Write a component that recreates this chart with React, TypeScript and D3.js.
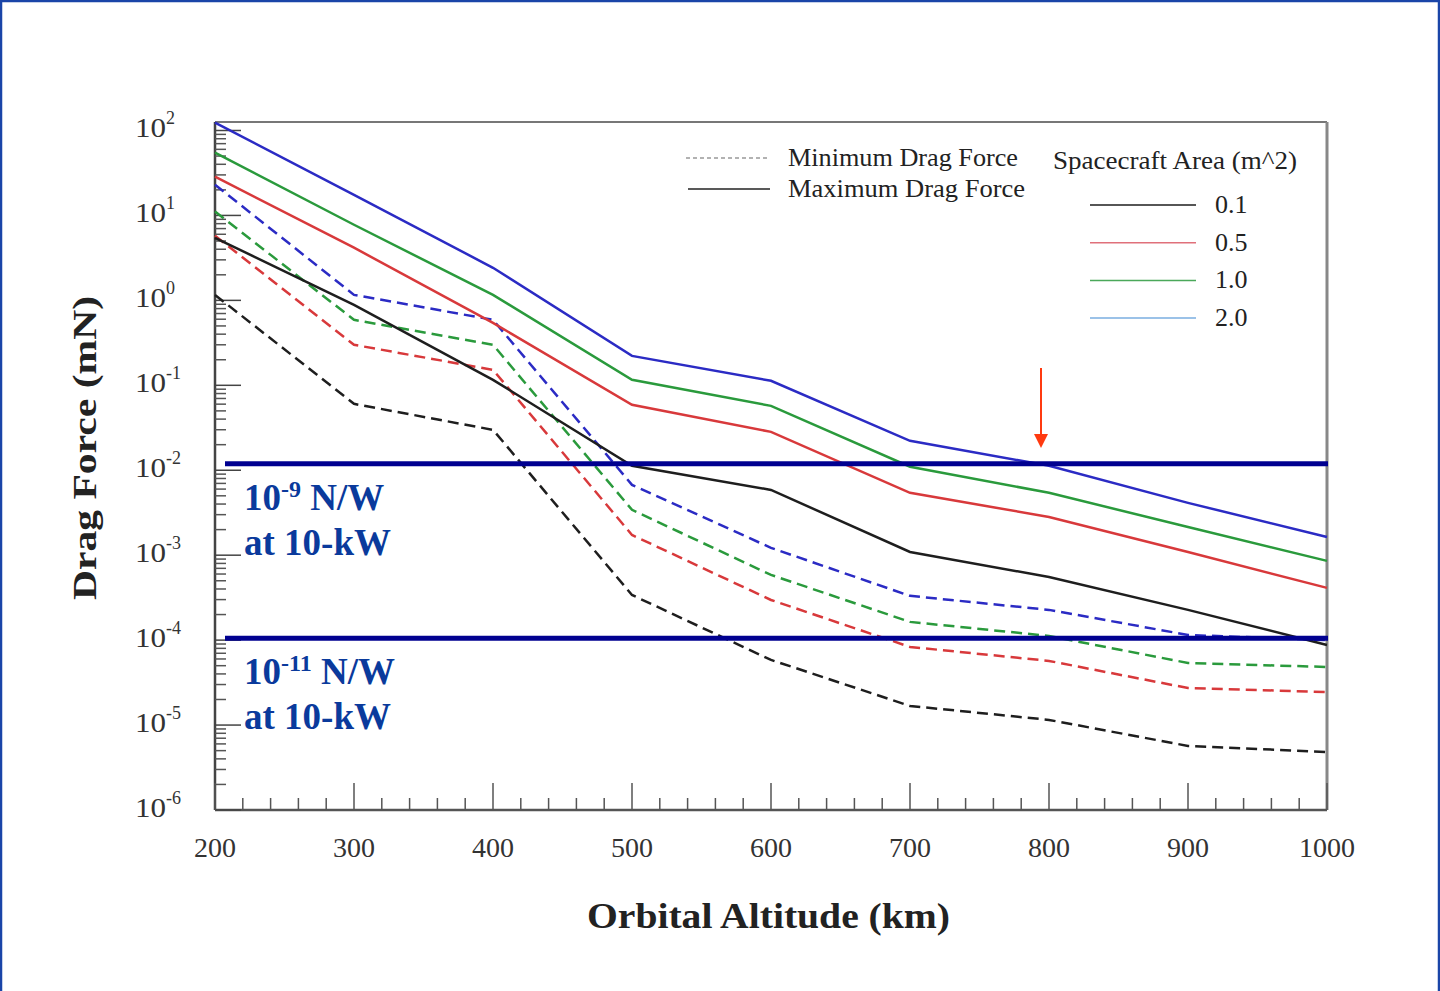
import React from 'react';
import * as d3 from 'd3';

// orbital altitude (km)
const altitudes = [200, 300, 400, 500, 600, 700, 800, 900, 1000];

// drag force (mN)
const maxDrag01 = [5.46, 0.887, 0.116, 0.0113, 0.00587, 0.00109, 0.000554, 0.000227, 0.0000877];
const maxDrag05 = [28.6, 4.17, 0.544, 0.0589, 0.0283, 0.00542, 0.00282, 0.00109, 0.000412];
const maxDrag10 = [54.8, 7.77, 1.16, 0.116, 0.0573, 0.011, 0.00542, 0.00215, 0.000857];
const maxDrag20 = [123.6, 17.5, 2.42, 0.222, 0.113, 0.0222, 0.0113, 0.00413, 0.00164];
const minDrag01 = [1.16, 0.0605, 0.0299, 0.00034, 0.0000585, 0.0000168, 0.0000115, 0.00000568, 0.00000482];
const minDrag05 = [5.77, 0.3, 0.152, 0.00173, 0.000297, 0.0000832, 0.0000569, 0.0000273, 0.0000245];
const minDrag10 = [11.1, 0.59, 0.3, 0.00342, 0.000586, 0.000164, 0.000112, 0.0000538, 0.0000483];
const minDrag20 = [23.0, 1.16, 0.59, 0.00673, 0.00122, 0.000332, 0.000227, 0.000115, 0.0001];

const areaLabels = ['0.1', '0.5', '1.0', '2.0'];
const areaColors = ['#1e1e1e', '#d8393b', '#2a9a3c', '#2b2bc4'];
const legendColors = ['#1e1e1e', '#e0707a', '#4aa85a', '#7aaee0'];

const xTicks = [200, 300, 400, 500, 600, 700, 800, 900, 1000];
const yExponents = [2, 1, 0, -1, -2, -3, -4, -5, -6];

// thrust noise thresholds (mN) and their labels
const thresholds = [0.0119, 0.000105];
const thresholdExp = ['-9', '-11'];

const W = 1440;
const H = 991;
const serif = '"Liberation Serif", "Times New Roman", serif';

const App = () => {
  const x = d3.scaleLinear().domain([200, 1000]).range([215, 1327]);
  const y = d3.scaleLog().domain([1e-6, Math.pow(10, 2.1)]).range([810, 122]);

  const line = d3
    .line<number>()
    .x((d, i) => x(altitudes[i]))
    .y((d) => y(d));

  const maxSeries = [maxDrag01, maxDrag05, maxDrag10, maxDrag20];
  const minSeries = [minDrag01, minDrag05, minDrag10, minDrag20];

  // minor ticks
  const yMinor: number[] = [];
  for (let e = -6; e < 2; e++) {
    for (let k = 2; k <= 9; k++) yMinor.push(k * Math.pow(10, e));
  }
  const xMinor = d3.range(220, 1000, 20).filter((v) => v % 100 !== 0);

  return (
    <svg width={W} height={H} style={{ position: 'absolute', left: 0, top: 0, background: '#fff' }}>
      {/* page border */}
      <rect x={1} y={1} width={W - 2} height={H + 10} fill="none" stroke="#1a45a8" strokeWidth={2.5} />

      {/* plot frame */}
      <line x1={215} y1={122} x2={1327} y2={122} stroke="#777" strokeWidth={2} />
      <line x1={1327} y1={122} x2={1327} y2={810} stroke="#888" strokeWidth={3} />
      <line x1={215} y1={810} x2={1327} y2={810} stroke="#555" strokeWidth={2.5} />
      <line x1={215} y1={122} x2={215} y2={810} stroke="#444" strokeWidth={2.5} />

      {/* y ticks */}
      {yExponents.map((e) => (
        <line key={'ym' + e} x1={215} x2={241} y1={y(Math.pow(10, e))} y2={y(Math.pow(10, e))} stroke="#444" strokeWidth={1.5} />
      ))}
      {yMinor.map((v, i) => (
        <line key={'yn' + i} x1={215} x2={226} y1={y(v)} y2={y(v)} stroke="#555" strokeWidth={1.5} />
      ))}
      {/* x ticks */}
      {xTicks.map((t) => (
        <line key={'xm' + t} x1={x(t)} x2={x(t)} y1={810} y2={783} stroke="#555" strokeWidth={1.5} />
      ))}
      {xMinor.map((t) => (
        <line key={'xn' + t} x1={x(t)} x2={x(t)} y1={810} y2={798} stroke="#555" strokeWidth={1.5} />
      ))}

      {/* y tick labels */}
      {yExponents.map((e) => (
        <text key={'yl' + e} x={135} y={y(Math.pow(10, e)) + 7} fontFamily={serif} fontSize={28} fill="#333">
          <tspan textLength={31} lengthAdjust="spacingAndGlyphs">10</tspan>
          <tspan dy={-13} fontSize={18}>{e}</tspan>
        </text>
      ))}
      {/* x tick labels */}
      {xTicks.map((t) => (
        <text key={'xl' + t} x={x(t)} y={857} textAnchor="middle" fontFamily={serif} fontSize={28} fill="#333">
          {t}
        </text>
      ))}

      {/* axis titles */}
      <text
        x={587}
        y={928}
        fontFamily={serif}
        fontWeight="bold"
        fontSize={35}
        fill="#222"
        textLength={363}
        lengthAdjust="spacingAndGlyphs"
      >
        Orbital Altitude (km)
      </text>
      <text
        transform="translate(96,600) rotate(-90)"
        fontFamily={serif}
        fontWeight="bold"
        fontSize={33}
        fill="#222"
        textLength={304}
        lengthAdjust="spacingAndGlyphs"
      >
        Drag Force (mN)
      </text>

      {/* data */}
      {minSeries.map((s, i) => (
        <path key={'min' + i} d={line(s) || ''} fill="none" stroke={areaColors[i]} strokeWidth={2.5} strokeDasharray="11 6" />
      ))}
      {maxSeries.map((s, i) => (
        <path key={'max' + i} d={line(s) || ''} fill="none" stroke={areaColors[i]} strokeWidth={2.5} />
      ))}

      {/* legend: line style */}
      <line x1={686} x2={770} y1={158} y2={158} stroke="#999" strokeWidth={1.5} strokeDasharray="4 3" />
      <text x={788} y={166} fontFamily={serif} fontSize={26} fill="#222" textLength={230} lengthAdjust="spacingAndGlyphs">
        Minimum Drag Force
      </text>
      <line x1={688} x2={770} y1={189} y2={189} stroke="#222" strokeWidth={1.5} />
      <text x={788} y={197} fontFamily={serif} fontSize={26} fill="#222" textLength={237} lengthAdjust="spacingAndGlyphs">
        Maximum Drag Force
      </text>
      {/* legend: area */}
      <text x={1053} y={169} fontFamily={serif} fontSize={26} fill="#222" textLength={244} lengthAdjust="spacingAndGlyphs">
        Spacecraft Area (m^2)
      </text>
      {areaLabels.map((a, i) => (
        <g key={'lg' + a}>
          <line x1={1090} x2={1196} y1={205 + i * 37.7} y2={205 + i * 37.7} stroke={legendColors[i]} strokeWidth={1.5} />
          <text x={1215} y={213 + i * 37.7} fontFamily={serif} fontSize={26} fill="#222">
            {a}
          </text>
        </g>
      ))}

      {/* threshold lines */}
      {thresholds.map((v, i) => (
        <line key={'th' + i} x1={225} x2={1328} y1={y(v)} y2={y(v)} stroke="#000090" strokeWidth={5} />
      ))}
      {thresholds.map((v, i) => (
        <g key={'tl' + i} fontFamily={serif} fontWeight="bold" fill="#0a3a9c">
          <text x={244} y={y(v) + 46} fontSize={37}>
            <tspan>10</tspan>
            <tspan dy={-13} fontSize={24}>{thresholdExp[i]}</tspan>
            <tspan dy={13}> N/W</tspan>
          </text>
          <text x={244} y={y(v) + 91} fontSize={37}>
            at 10-kW
          </text>
        </g>
      ))}

      {/* arrow */}
      <line x1={1041} x2={1041} y1={368} y2={436} stroke="#ff3a10" strokeWidth={2} />
      <path d="M1034,434 L1048,434 L1041,448 Z" fill="#ff3a10" />
    </svg>
  );
};

export default App;
